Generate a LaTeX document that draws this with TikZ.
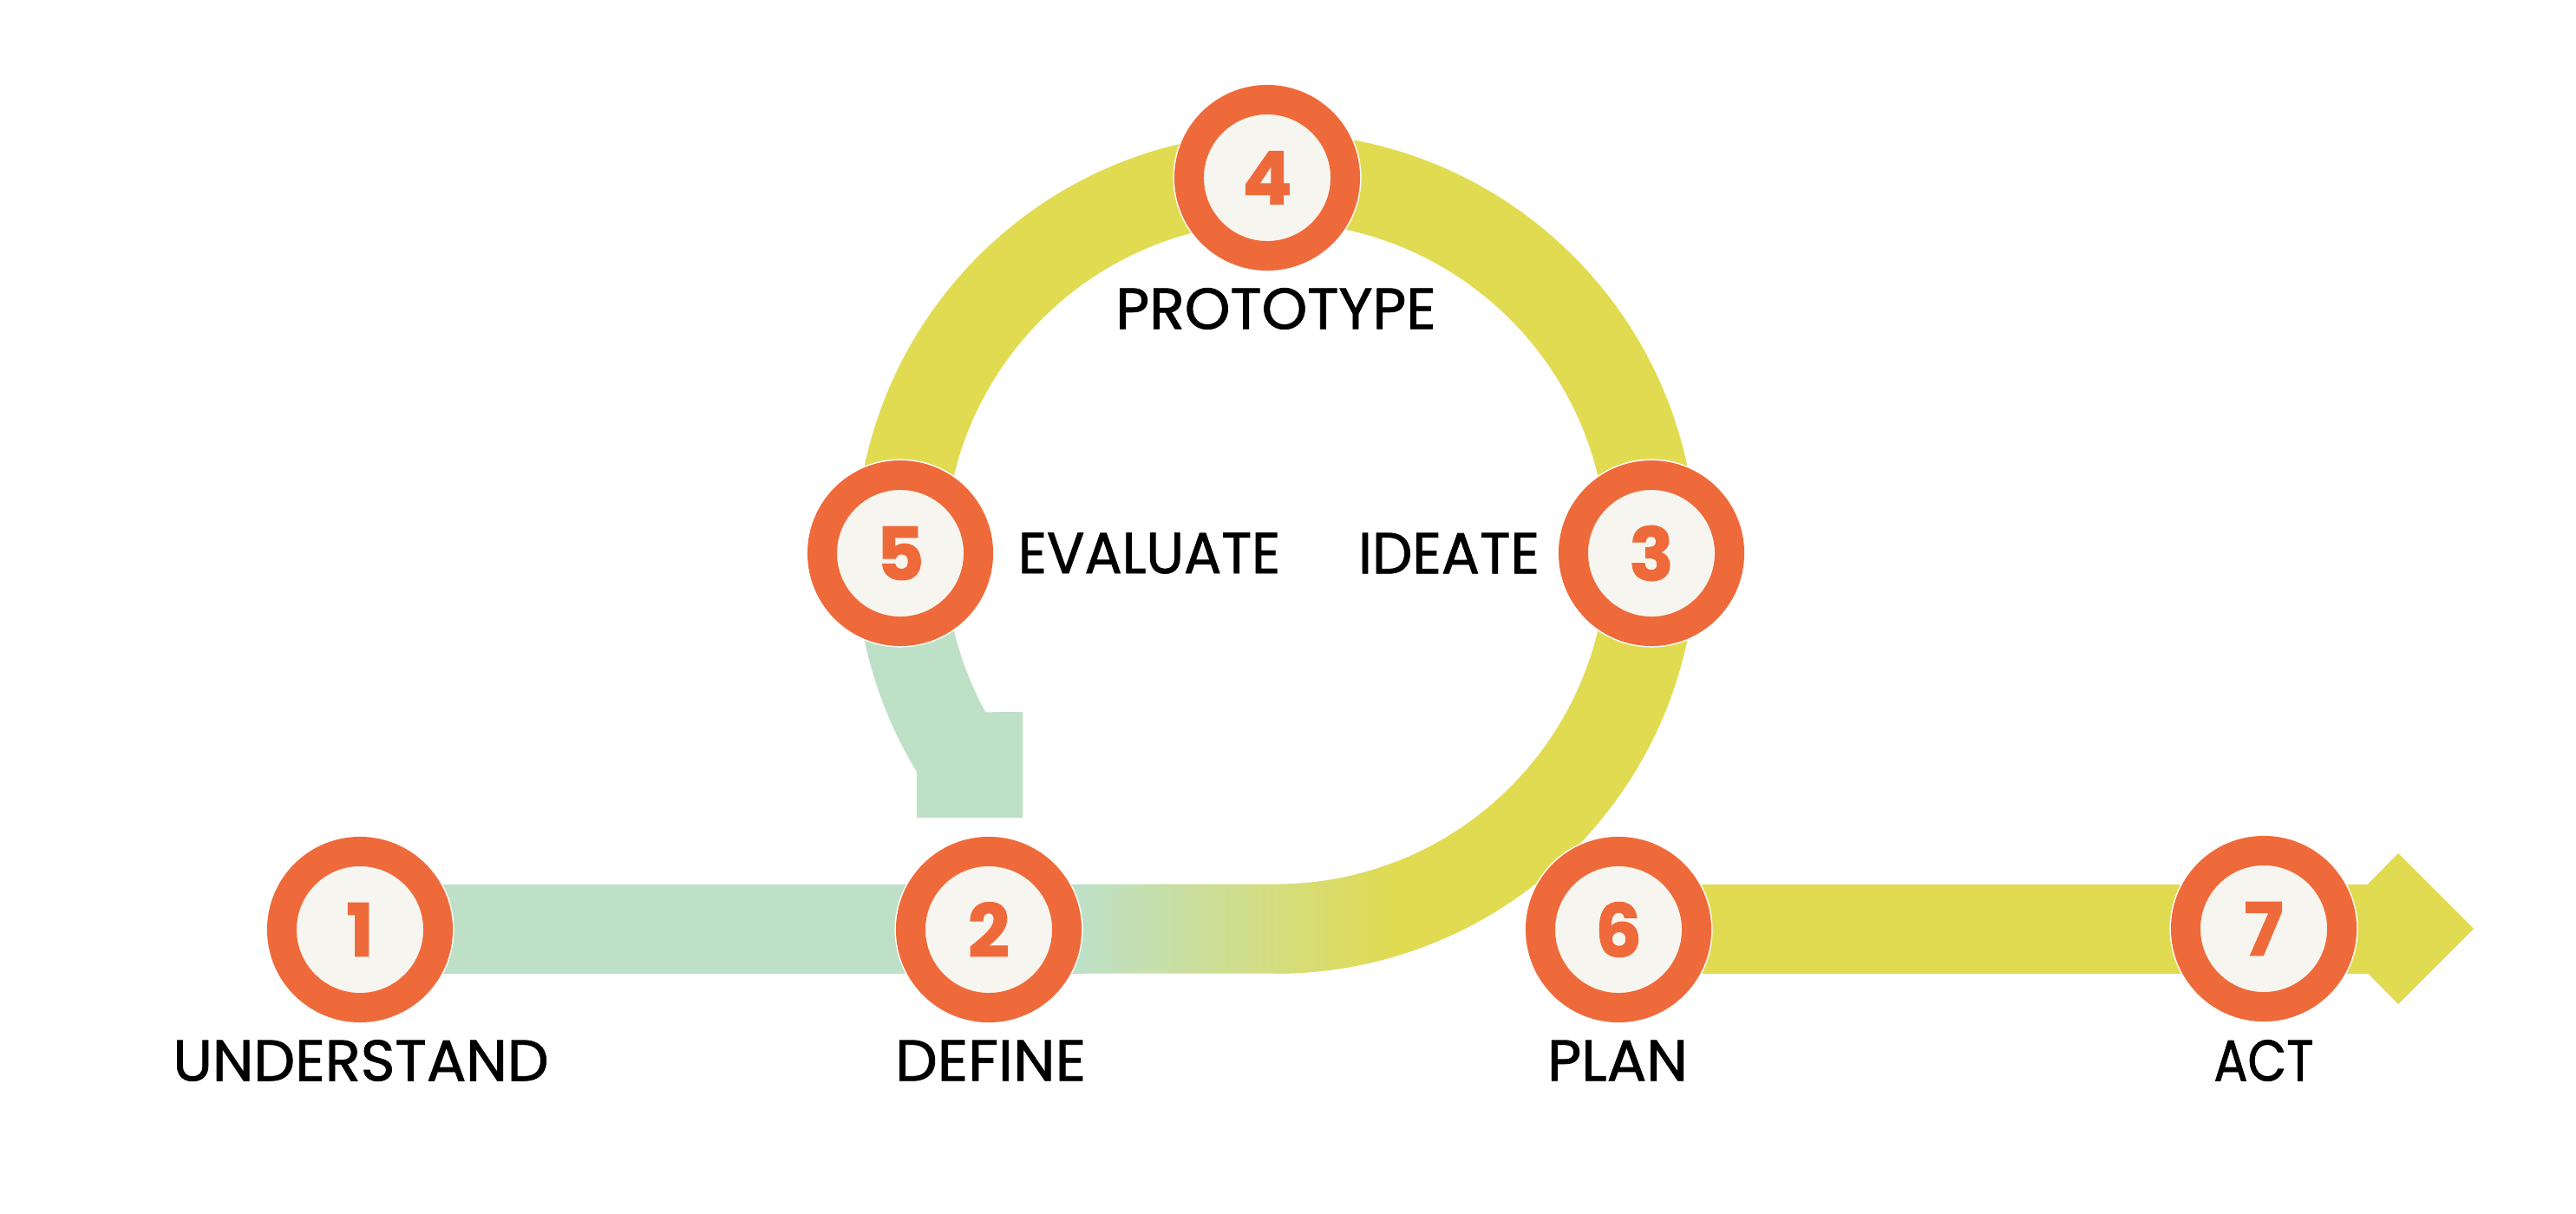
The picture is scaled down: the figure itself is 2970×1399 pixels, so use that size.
\documentclass[tikz,border=0pt]{standalone}
\usepackage{fontspec}
\usepackage{graphicx}
\setmainfont{Poppins}
\newfontfamily\labfont{Poppins}[FakeBold=1.2]
\usetikzlibrary{calc}
\definecolor{orng}{HTML}{EF6A3A}
\definecolor{cream}{HTML}{F7F5F0}
\definecolor{mint}{HTML}{BEE0C7}
\definecolor{lime}{HTML}{E1DB52}
\newcommand\fitw[2]{\setbox0\hbox{#2}\pgfmathsetmacro\fitfac{#1/\wd0}\scalebox{\fitfac}[1]{\box0}}
\tikzset{
  stepnum/.style={circle, draw=orng, line width=0.34cm, fill=cream, minimum size=1.8cm,
     inner sep=0pt, preaction={draw=white, line width=0.37cm},
     text=orng, font=\fontsize{24}{24}\selectfont\bfseries\addfontfeature{FakeBold=1.5}},
  steplab/.style={inner sep=0pt, text=black, font=\fontsize{19}{19}\labfont},
}
\begin{document}
\begin{tikzpicture}[x=0.01cm,y=0.01cm]
\fill[white] (0,0) rectangle (2970,1399);
\useasboundingbox (0,0) rectangle (2970,1399);
\coordinate (C) at (1471,761);
% yellow loop
\draw[lime, line width=1.03cm] ([shift={(C)}]-90:4.33cm) arc[start angle=-90, end angle=180, radius=4.33cm];
% green band from 1 to 2
\fill[mint] (415,276.5) rectangle (1250,379.5);
% gradient part (straight band and lower curve of the loop)
\begin{scope}
\clip (1245,276.5) -- (1471,276.5)
      arc[start angle=-90, end angle=-55, radius=4.845cm]
      -- ([shift={(C)}]-55:3.815cm) arc[start angle=-55, end angle=-90, radius=3.815cm]
      -- (1245,379.5) -- cycle;
\shade[left color=mint, right color=lime] (1245,200) rectangle (1610,500);
\end{scope}
% green return stub
\fill[mint] ([shift={(C)}]180:4.845cm) arc[start angle=180, end angle=211.3, radius=4.845cm]
   -- (1057,456) -- (1179,456) -- (1179,578)
   -- ([shift={(C)}]208.7:3.815cm) arc[start angle=208.7, end angle=180, radius=3.815cm] -- cycle;
% band 6 to 7 and arrow head
\fill[lime] (1866,276.5) rectangle (2731,379.5);
\fill[lime] (2730,379.5) -- (2765,415) -- (2852,328) -- (2765,241) -- (2730,276.5) -- cycle;
% step circles
\node[stepnum] (n1) at (415,327) {1};
\node[stepnum] (n2) at (1140,327) {2};
\node[stepnum] (n3) at (1904,761) {3};
\node[stepnum] (n4) at (1461,1194) {4};
\node[stepnum] (n5) at (1038,761) {5};
\node[stepnum] (n6) at (1866,327) {6};
\node[stepnum] (n7) at (2610,328) {7};
% labels
\node[steplab] (l1) at ($(n1)+(1,-151)$) {\fitw{4.33cm}{UNDERSTAND}};
\node[steplab] (l2) at ($(n2)+(2,-151)$) {\fitw{2.20cm}{DEFINE}};
\node[steplab] (l6) at ($(n6)+(-1,-151)$) {\fitw{1.62cm}{PLAN}};
\node[steplab] (l7) at ($(n7)+(0,-152)$) {\fitw{1.15cm}{ACT}};
\node[steplab] (l4) at ($(n4)+(10,-151)$) {\fitw{3.69cm}{PROTOTYPE}};
\node[steplab] (l5) at (1325,761) {\fitw{3.02cm}{EVALUATE}};
\node[steplab] (l3) at (1670.5,761) {\fitw{2.09cm}{IDEATE}};
\end{tikzpicture}
\end{document}
